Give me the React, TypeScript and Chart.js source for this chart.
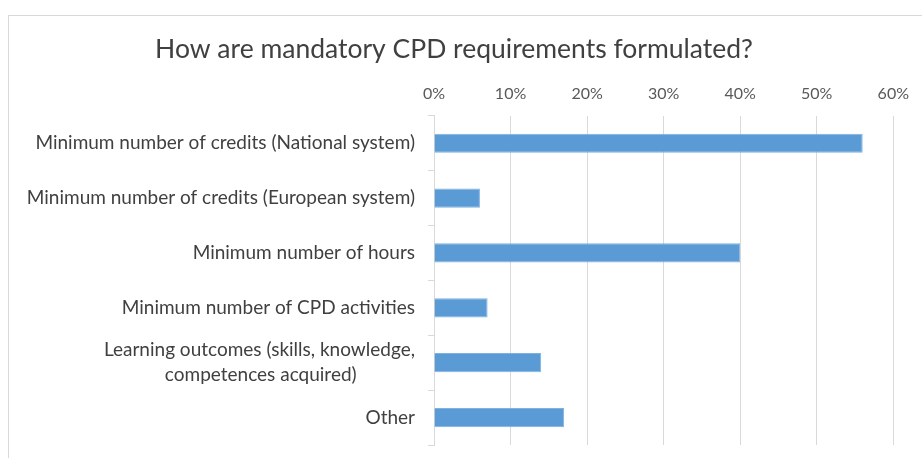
import React, { useEffect, useRef } from "react";
import { Chart, registerables } from "chart.js";

Chart.register(...registerables);

const titleText = "How are mandatory CPD requirements formulated?";
const categories: (string | string[])[] = [
  "Minimum number of credits (National system)",
  "Minimum number of credits (European system)",
  "Minimum number of hours",
  "Minimum number of CPD activities",
  ["Learning outcomes (skills, knowledge,", "competences acquired)"],
  "Other",
];
const values = [0.56, 0.06, 0.4, 0.07, 0.14, 0.17];
const xMin = 0;
const xMax = 0.6;
const xStep = 0.1;

const FONT = "Lato";
const LABEL_SIZE = 19;

function centerLines(lines: string[]): string[] {
  const c = document.createElement("canvas").getContext("2d")!;
  c.font = `${LABEL_SIZE}px ${FONT}`;
  const widths = lines.map((l) => c.measureText(l).width);
  const maxW = Math.max(...widths);
  const sp = c.measureText(" ").width || 4;
  return lines.map((l, i) => l + " ".repeat(Math.max(0, Math.round((maxW - widths[i]) / 2 / sp))));
}

export default function App() {
  const ref = useRef<HTMLCanvasElement>(null);
  useEffect(() => {
    const labels = categories.map((c) => (Array.isArray(c) ? centerLines(c) : c));
    const chart = new Chart(ref.current!, {
      type: "bar",
      data: {
        labels,
        datasets: [
          {
            data: values,
            backgroundColor: "#5b9bd5",
            borderColor: "#7fb2e0",
            borderWidth: 1,
            barPercentage: 0.5,
            categoryPercentage: 0.7,
          },
        ],
      },
      options: {
        indexAxis: "y",
        animation: false,
        responsive: false,
        layout: { padding: { left: 0, right: 23, top: 0, bottom: 13 } },
        plugins: {
          legend: { display: false },
          tooltip: { enabled: false },
          title: {
            display: true,
            text: titleText,
            color: "#404040",
            font: { family: FONT, size: 26.5, weight: "normal", lineHeight: 1.2 },
            padding: { top: 18, bottom: 6 },
          },
        },
        scales: {
          x: {
            position: "top",
            min: xMin,
            max: xMax,
            ticks: {
              stepSize: xStep,
              color: "#595959",
              font: { family: FONT, size: 16, lineHeight: 1.125 },
              padding: 13,
              callback: (v: any) => Math.round(Number(v) * 100) + "%",
            },
            grid: { color: "#d9d9d9", drawTicks: false },
            border: { display: false },
          },
          y: {
            ticks: {
              color: "#404040",
              font: { family: FONT, size: LABEL_SIZE, lineHeight: 1.3 },
              padding: 13,
            },
            grid: { drawOnChartArea: false, drawTicks: true, tickLength: 6, color: "#d9d9d9" },
            border: { display: true, color: "#d9d9d9" },
            afterFit: (s: any) => {
              s.width = 425;
              s.paddingTop = 0;
              s.paddingBottom = 0;
            },
          },
        },
      },
    });
    return () => chart.destroy();
  }, []);
  return (
    <div
      style={{
        position: "absolute",
        left: 8,
        top: 15,
        width: 914,
        height: 443,
        borderTop: "1px solid #d9d9d9",
        borderLeft: "1px solid #d9d9d9",
        boxSizing: "border-box",
        background: "#fff",
      }}
    >
      <canvas ref={ref} width={913} height={442} style={{ display: "block", width: 913, height: 442 }} />
    </div>
  );
}
